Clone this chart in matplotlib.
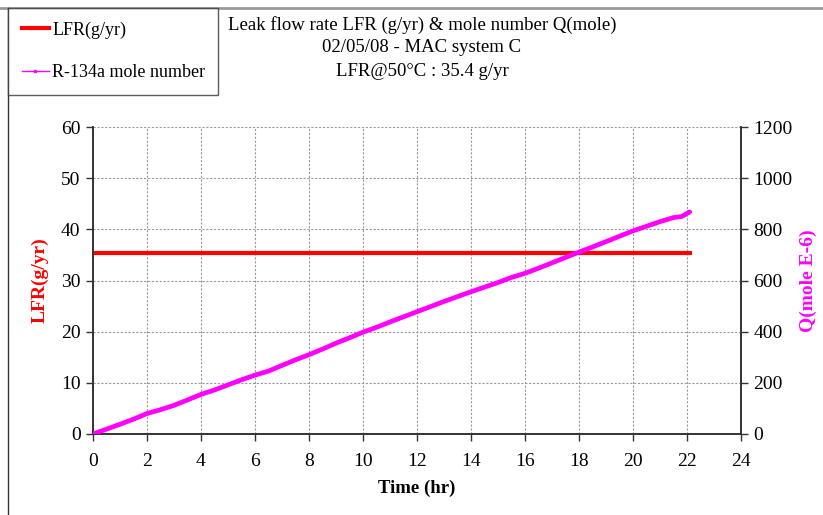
import matplotlib
matplotlib.use("Agg")
import matplotlib.pyplot as plt
from matplotlib.lines import Line2D

plt.rcParams["font.family"] = ["Liberation Serif", "DejaVu Serif"]

# Leak test, MAC system C, 02/05/08
time_hr = [0, 0.5, 1, 1.5, 2, 2.5, 3, 3.5, 4, 4.5, 5, 5.5, 6, 6.5, 7, 7.5,
           8, 8.5, 9, 9.5, 10, 10.5, 11, 11.5, 12, 12.5, 13, 13.5, 14, 14.5,
           15, 15.5, 16, 16.5, 17, 17.5, 18, 18.5, 19, 19.5, 20, 20.5, 21,
           21.5, 21.8, 22, 22.1]
q_mole = [0, 19, 38, 58, 80, 95, 112, 133, 155, 172, 192, 212, 230, 246,
          268, 290, 310, 332, 355, 376, 398, 417, 438, 458, 478, 498, 518,
          537, 556, 574, 592, 612, 628, 648, 669, 690, 711, 731, 752, 773,
          794, 812, 830, 846, 850, 862, 868]

lfr_value = 35.4
lfr_time = [0, 22.2]
lfr = [lfr_value, lfr_value]

x_ticks = list(range(0, 25, 2))
lfr_ticks = list(range(0, 61, 10))
q_ticks = list(range(0, 1201, 200))

red = "#FF0000"
magenta = "#FF00FF"

fig = plt.figure(figsize=(8.23, 5.15), dpi=100)
ax = fig.add_axes([93 / 823, 1 - 434 / 515, (741 - 93) / 823, (434 - 127) / 515])
ax2 = ax.twinx()

ax.plot(lfr_time, lfr, color=red, lw=3, solid_capstyle="butt", zorder=3)
ax2.plot(time_hr, q_mole, color=magenta, lw=3.4, solid_joinstyle="round",
         solid_capstyle="round", zorder=3)

ax.set_xlim(0, 24)
ax.set_ylim(0, 60)
ax2.set_ylim(0, 1200)
ax.set_xticks(x_ticks)
ax.set_yticks(lfr_ticks)
ax2.set_yticks(q_ticks)

ax.grid(True, color="#999999", ls=(0, (2, 1.5)), lw=0.8)
ax.set_axisbelow(True)
for a in (ax, ax2):
    a.spines["top"].set_visible(False)
    for s in ("left", "right", "bottom"):
        a.spines[s].set_color("#333333")
        a.spines[s].set_linewidth(1.2)
    a.tick_params(labelsize=14, length=5, width=1, color="#333333",
                  direction="out", pad=4)
ax.tick_params(axis="x", pad=9)

ax.set_xlabel("Time (hr)", fontsize=13.5, fontweight="bold", labelpad=7)
ax.set_ylabel("LFR(g/yr)", fontsize=14, fontweight="bold", color=red, labelpad=9)
ax2.set_ylabel("Q(mole E-6)", fontsize=14, fontweight="bold", color=magenta,
               rotation=90, labelpad=5)

title_lines = ["Leak flow rate LFR (g/yr) & mole number Q(mole)",
               "02/05/08 - MAC system C",
               "LFR@50°C : 35.4 g/yr"]
for i, line in enumerate(title_lines):
    fig.text(422 / 823, 1 - (25 + 23 * i) / 515, line, ha="center",
             va="center", fontsize=13.5)

# outer chart frame, partly visible
fig.add_artist(Line2D([0, 822 / 823], [1 - 7.5 / 515] * 2, color="#999999",
                      lw=2, transform=fig.transFigure))
fig.add_artist(Line2D([8 / 823] * 2, [0, 1 - 8 / 515], color="#333333",
                      lw=1, transform=fig.transFigure))

handles = [Line2D([], [], color=red, lw=3),
           Line2D([], [], color=magenta, lw=1, marker="s", ms=2)]
leg = fig.legend(handles, ["LFR(g/yr)", "R-134a mole number"],
                 loc="upper left",
                 bbox_to_anchor=(8 / 823, 1 - 93 / 515, 210 / 823, 85 / 515),
                 mode="expand", fancybox=False, frameon=True,
                 edgecolor="#333333", fontsize=13, handlelength=1.5,
                 handletextpad=0.2, labelspacing=1.4, borderpad=0.75,
                 borderaxespad=0)
leg.get_frame().set_linewidth(1)

fig.savefig("out.png", dpi=100)
